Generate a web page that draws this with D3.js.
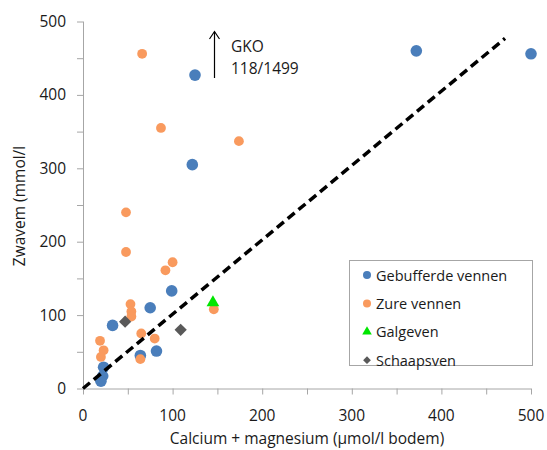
<!DOCTYPE html>
<html>
<head>
<meta charset="utf-8">
<script src="https://cdn.jsdelivr.net/npm/d3@7/dist/d3.min.js"></script>
<style>
  html, body { margin: 0; padding: 0; background: #fff; }
  svg { display: block; font-family: "Open Sans", "Noto Sans", sans-serif; }
</style>
</head>
<body>
<svg id="chart" width="547" height="450"></svg>
<script>
// Calcium + magnesium in the soil vs. sulphur, per group of fens
const gebufferdeVennen = [
  [372, 460], [500, 456], [125, 427], [122, 305], [99, 133],
  [75, 110], [33, 86], [82, 51], [64, 45], [23, 29], [22, 17], [20, 10]
];
const zureVennen = [
  [66, 456], [87, 355], [174, 337], [48, 240], [48, 186],
  [100, 172], [92, 161], [53, 115], [54, 105], [54, 98],
  [65, 75], [80, 68], [64, 40], [19, 65], [23, 52], [20, 43], [146, 108]
];
const galgeven = [[145, 117]];
const schaapsven = [[47, 91], [109, 80]];
const referenceLine = [[0, 0], [471, 477]];

const xTicks = [0, 100, 200, 300, 400, 500];
const yTicks = [0, 100, 200, 300, 400, 500];
const minorTicks = [0, 50, 100, 150, 200, 250, 300, 350, 400, 450, 500];

const legendItems = [
  { label: "Gebufferde vennen", shape: "circle", color: "#4A7EBB" },
  { label: "Zure vennen", shape: "circle", color: "#F99A5E" },
  { label: "Galgeven", shape: "triangle", color: "#00E600" },
  { label: "Schaapsven", shape: "diamond", color: "#595959" }
];

const svg = d3.select("#chart");
const axisColor = "#A6A6A6";
const textColor = "#1A1A1A";

const x = d3.scaleLinear().domain([0, 500]).range([83, 531]);
const y = d3.scaleLinear().domain([0, 500]).range([388.5, 21.5]);

// axes
const xAxis = svg.append("g").attr("transform", `translate(0,${y(0)})`)
  .call(d3.axisBottom(x).tickValues(minorTicks).tickSize(6).tickFormat(""));
const yAxis = svg.append("g").attr("transform", `translate(${x(0)},0)`)
  .call(d3.axisLeft(y).tickValues(minorTicks).tickSize(6).tickFormat(""));
[xAxis, yAxis].forEach(g => {
  g.select(".domain").attr("stroke", axisColor).attr("stroke-width", 1);
  g.selectAll(".tick line").attr("stroke", axisColor);
});
// plain axis lines without outer end ticks
yAxis.select(".domain").attr("d", `M0.5,${y(500)}V${y(0)}`);
xAxis.select(".domain").attr("d", `M${x(0)},0.5H${x(500)}`);

svg.append("g").selectAll("text").data(xTicks).join("text")
  .attr("x", d => x(d)).attr("y", 421)
  .attr("text-anchor", "middle").attr("font-size", 15.5).attr("fill", textColor)
  .text(d => d);

svg.append("g").selectAll("text").data(yTicks).join("text")
  .attr("x", 66).attr("y", d => y(d) + 5.5)
  .attr("text-anchor", "end").attr("font-size", 15.5).attr("fill", textColor)
  .text(d => d);

// axis titles
svg.append("text").attr("x", 307).attr("y", 444)
  .attr("text-anchor", "middle").attr("font-size", 15.5).attr("fill", textColor)
  .text("Calcium + magnesium (µmol/l bodem)");
svg.append("text")
  .attr("transform", "translate(25,206) rotate(-90)")
  .attr("text-anchor", "middle").attr("font-size", 15.5).attr("fill", textColor)
  .text("Zwavem (mmol/l");

// marks
svg.append("g").selectAll("circle").data(gebufferdeVennen).join("circle")
  .attr("cx", d => x(d[0])).attr("cy", d => y(d[1])).attr("r", 5.8)
  .attr("fill", legendItems[0].color);

svg.append("g").selectAll("circle").data(zureVennen).join("circle")
  .attr("cx", d => x(d[0])).attr("cy", d => y(d[1])).attr("r", 4.9)
  .attr("fill", legendItems[1].color);

const tri = d3.symbol().type(d3.symbolTriangle).size(70);
svg.append("g").selectAll("path").data(galgeven).join("path")
  .attr("transform", d => `translate(${x(d[0])},${y(d[1])})`)
  .attr("d", tri).attr("fill", legendItems[2].color);

const dia = d3.symbol().type(d3.symbolSquare).size(75);
svg.append("g").selectAll("path").data(schaapsven).join("path")
  .attr("transform", d => `translate(${x(d[0])},${y(d[1])}) rotate(45)`)
  .attr("d", dia).attr("fill", legendItems[3].color);

// 1:1 reference line
svg.append("path")
  .datum(referenceLine)
  .attr("d", d3.line().x(d => x(d[0])).y(d => y(d[1])))
  .attr("fill", "none").attr("stroke", "#000").attr("stroke-width", 3.5)
  .attr("stroke-dasharray", "9,5");

// GKO annotation (off-scale value)
svg.append("line").attr("x1", 214.5).attr("x2", 214.5).attr("y1", 78).attr("y2", 32)
  .attr("stroke", "#000").attr("stroke-width", 1.2);
svg.append("path").attr("d", "M209.5,39 L214.5,31.5 L219.5,39")
  .attr("fill", "none").attr("stroke", "#000").attr("stroke-width", 1.2);
svg.append("text").attr("x", 231).attr("y", 52).attr("font-size", 15.5).attr("fill", textColor).text("GKO");
svg.append("text").attr("x", 231).attr("y", 74).attr("font-size", 15.5).attr("fill", textColor).text("118/1499");

// legend
const legend = svg.append("g");
legend.append("rect").attr("x", 349.5).attr("y", 260.5).attr("width", 183).attr("height", 105)
  .attr("fill", "#fff").attr("stroke", "#A6A6A6").attr("stroke-width", 1);
const rows = legend.selectAll("g").data(legendItems).join("g")
  .attr("transform", (d, i) => `translate(367,${275 + i * 28.4})`);
rows.each(function(d) {
  const g = d3.select(this);
  if (d.shape === "circle") {
    g.append("circle").attr("r", 4).attr("fill", d.color);
  } else if (d.shape === "triangle") {
    g.append("path").attr("d", d3.symbol().type(d3.symbolTriangle).size(40)).attr("fill", d.color);
  } else {
    g.append("path").attr("transform", "rotate(45)")
      .attr("d", d3.symbol().type(d3.symbolSquare).size(30)).attr("fill", d.color);
  }
  g.append("text").attr("x", 9).attr("y", 5.5).attr("font-size", 14.5).attr("fill", textColor).text(d.label);
});
</script>
</body>
</html>
